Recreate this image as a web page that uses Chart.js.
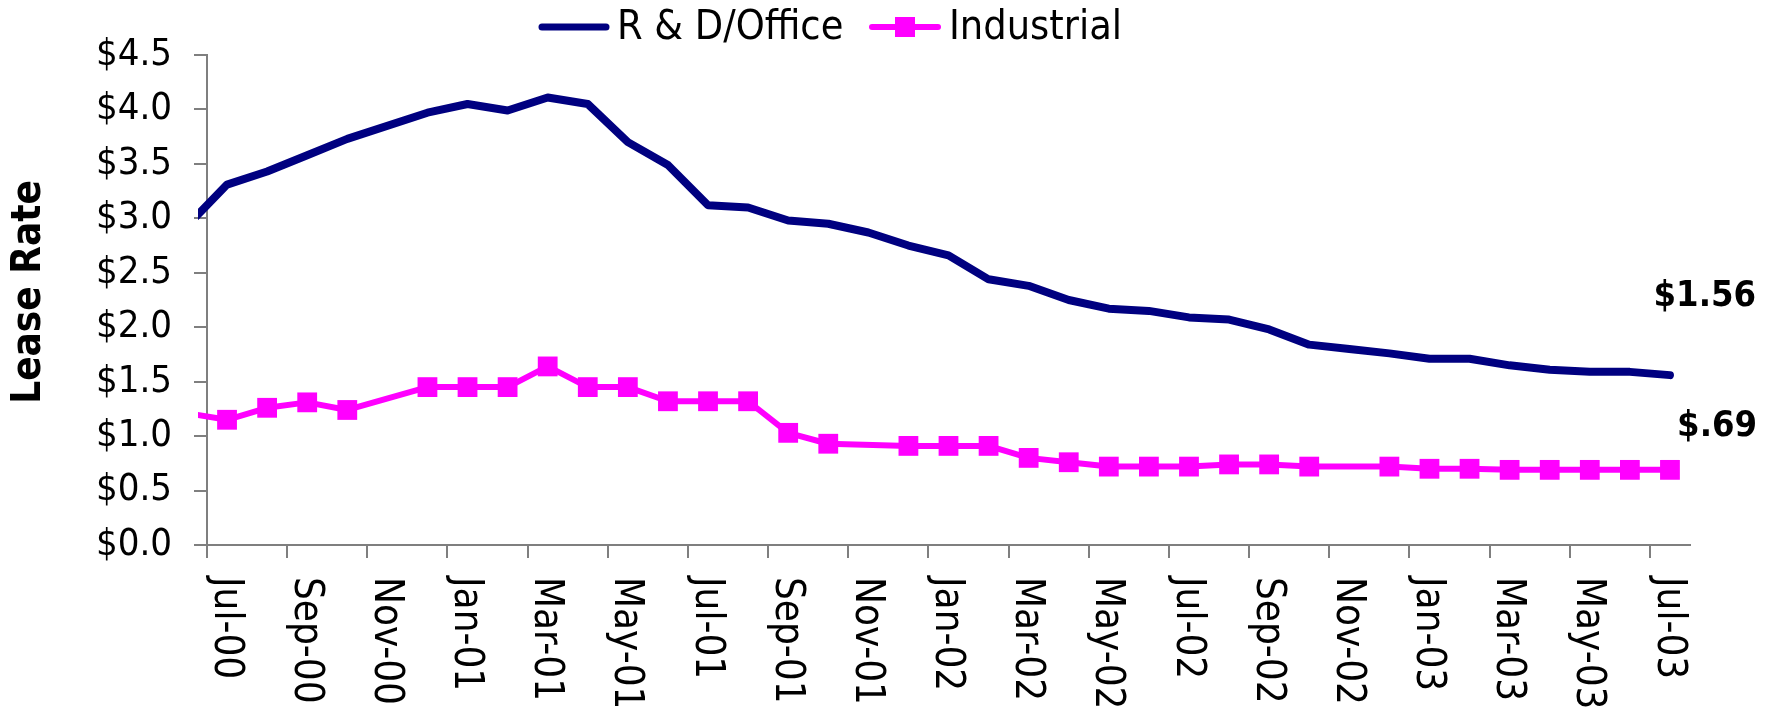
<!DOCTYPE html>
<html>
<head>
<meta charset="utf-8">
<title>Lease Rate</title>
<script src="https://cdn.jsdelivr.net/npm/chart.js@4.4.1/dist/chart.umd.min.js"></script>
<style>
  html, body { margin: 0; padding: 0; background: #fff; }
  #wrap { width: 1775px; height: 709px; }
</style>
</head>
<body>
<div id="wrap"><canvas id="leaseChart" width="1775" height="709"></canvas></div>
<script>
// one reading per month, dated mid-month (Jun-00 sits just left of the axis)
const months = ['Jun-00',
  'Jul-00','Aug-00','Sep-00','Oct-00','Nov-00','Dec-00',
  'Jan-01','Feb-01','Mar-01','Apr-01','May-01','Jun-01','Jul-01','Aug-01','Sep-01','Oct-01','Nov-01','Dec-01',
  'Jan-02','Feb-02','Mar-02','Apr-02','May-02','Jun-02','Jul-02','Aug-02','Sep-02','Oct-02','Nov-02','Dec-02',
  'Jan-03','Feb-03','Mar-03','Apr-03','May-03','Jun-03','Jul-03'];

const rdOffice = [2.93,
  3.31, 3.43, 3.58, 3.73, null, 3.97,
  4.05, 3.99, 4.11, 4.05, 3.70, 3.49, 3.12, 3.10, 2.98, 2.95, 2.87, 2.75,
  2.66, 2.44, 2.38, 2.25, 2.17, 2.15, 2.09, 2.07, 1.98, 1.84, 1.80, 1.76,
  1.71, 1.71, 1.65, 1.61, 1.59, 1.59, 1.56];

const industrial = [1.21,
  1.15, 1.26, 1.31, 1.24, null, 1.45,
  1.45, 1.45, 1.64, 1.45, 1.45, 1.32, 1.32, 1.32, 1.03, 0.93, null, 0.91,
  0.91, 0.91, 0.80, 0.76, 0.72, 0.72, 0.72, 0.74, 0.74, 0.72, null, 0.72,
  0.70, 0.70, 0.69, 0.69, 0.69, 0.69, 0.69];

// axis labels every second month, starting at the Jul-00 tick
const tickLabels = ['Jul-00','Sep-00','Nov-00','Jan-01','Mar-01','May-01','Jul-01','Sep-01','Nov-01',
  'Jan-02','Mar-02','May-02','Jul-02','Sep-02','Nov-02','Jan-03','Mar-03','May-03','Jul-03'];

const endLabels = ['$1.56', '$.69'];
const yTitle = 'Lease Rate';

// Tahoma-ish look: narrow sans first, then fallbacks
const FONT = '"DejaVu Sans Condensed", "Liberation Sans", sans-serif';
const NAVY = '#000080';
const MAGENTA = '#FF00FF';
const AXIS = '#7f7f7f';

// month index -> position on the linear x axis (0 = start of Jul-00)
function toPoints(arr) {
  return arr.map(function (v, i) { return { x: i - 0.5, y: v }; });
}

const textPlugin = {
  id: 'excelText',
  afterDraw: function (chart) {
    var c = chart.ctx, xs = chart.scales.x, area = chart.chartArea;
    c.save();
    c.fillStyle = '#000';

    // x labels, turned to read top to bottom
    c.font = '40px ' + FONT;
    c.textAlign = 'left';
    c.textBaseline = 'middle';
    tickLabels.forEach(function (t, k) {
      c.save();
      c.translate(xs.getPixelForValue(2 * k) + 18, area.bottom + 32);
      c.rotate(Math.PI / 2);
      c.fillText(t, 0, 0);
      c.restore();
    });

    // y title, reading bottom to top
    c.save();
    c.font = 'bold 40px ' + FONT;
    c.textAlign = 'center';
    c.translate(30, area.top + 237);
    c.rotate(-Math.PI / 2);
    c.fillText(yTitle, 0, 0);
    c.restore();

    // last values
    c.font = 'bold 36px ' + FONT;
    c.textAlign = 'right';
    c.fillText(endLabels[0], area.right + 66, area.top + 242);
    c.fillText(endLabels[1], area.right + 67, area.top + 372);

    // legend
    var ly = 27;
    c.lineCap = 'round';
    c.strokeStyle = NAVY;
    c.lineWidth = 7;
    c.beginPath(); c.moveTo(542, ly); c.lineTo(606, ly); c.stroke();
    c.strokeStyle = MAGENTA;
    c.lineWidth = 6;
    c.beginPath(); c.moveTo(872, ly); c.lineTo(938, ly); c.stroke();
    c.fillStyle = MAGENTA;
    c.fillRect(895, ly - 10, 20, 20);
    c.fillStyle = '#000';
    c.font = '41px ' + FONT;
    c.textAlign = 'left';
    c.fillText(chart.data.datasets[0].label, 617, ly + 1);
    c.fillText(chart.data.datasets[1].label, 949, ly + 1);
    c.restore();
  }
};

const ctx = document.getElementById('leaseChart').getContext('2d');
new Chart(ctx, {
  type: 'line',
  data: {
    datasets: [{
      label: 'R & D/Office',
      data: toPoints(rdOffice),
      borderColor: NAVY,
      backgroundColor: NAVY,
      borderWidth: 8,
      pointRadius: 0,
      borderCapStyle: 'round',
      borderJoinStyle: 'round',
      spanGaps: true,
      clip: { left: 9, top: false, right: false, bottom: false }
    }, {
      label: 'Industrial',
      data: toPoints(industrial),
      borderColor: MAGENTA,
      backgroundColor: MAGENTA,
      borderWidth: 6,
      pointStyle: 'rect',
      pointRadius: 14,
      pointBorderWidth: 0,
      pointBackgroundColor: MAGENTA,
      borderJoinStyle: 'round',
      spanGaps: true,
      clip: { left: 9, top: false, right: false, bottom: false }
    }]
  },
  options: {
    responsive: false,
    animation: false,
    layout: { padding: { top: 55, right: 85, left: 0, bottom: 0 } },
    plugins: {
      legend: { display: false },
      tooltip: { enabled: false }
    },
    scales: {
      x: {
        type: 'linear',
        min: 0,
        max: 37,
        afterFit: function (s) { s.height = 164; },
        grid: { drawOnChartArea: false, drawTicks: true, tickLength: 13, color: AXIS, lineWidth: 2 },
        border: { color: AXIS, width: 2 },
        ticks: { display: false, stepSize: 2, includeBounds: false, autoSkip: false }
      },
      y: {
        min: 0,
        max: 4.5,
        afterFit: function (s) { s.width = 207; },
        grid: { drawOnChartArea: false, drawTicks: true, tickLength: 13, color: AXIS, lineWidth: 2 },
        border: { color: AXIS, width: 2 },
        ticks: {
          stepSize: 0.5,
          padding: 22,
          color: '#000',
          font: { family: FONT, size: 38 },
          callback: function (v) { return '$' + Number(v).toFixed(1); }
        }
      }
    }
  },
  plugins: [textPlugin]
});
</script>
</body>
</html>
